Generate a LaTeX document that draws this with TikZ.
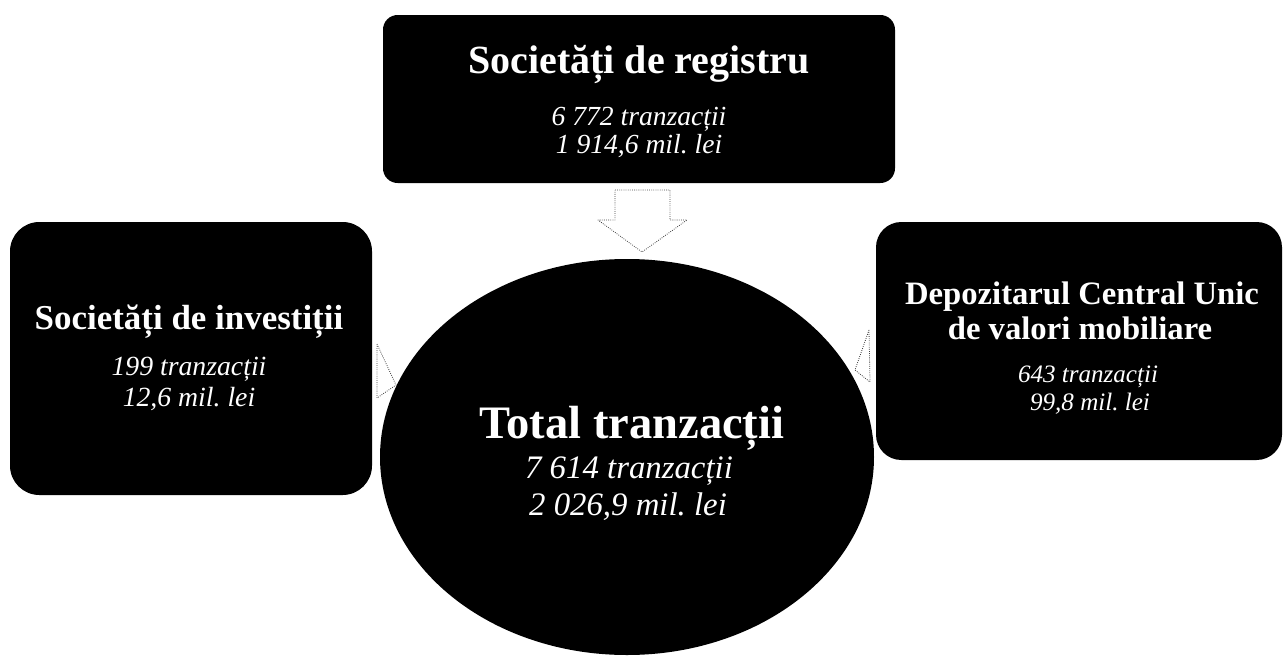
\documentclass[tikz,border=0pt]{standalone}
\usepackage{fontspec}
\setmainfont{Liberation Serif}
\usetikzlibrary{shapes.geometric}
\frenchspacing
\begin{document}
\begin{tikzpicture}[x=0.75pt,y=-0.75pt,
  box/.style={fill=black,draw=none,inner sep=0pt},
  ttl/.style={text=white,anchor=base,inner sep=0pt},
  sub/.style={text=white,anchor=base,inner sep=0pt},
  blockarrow/.style={fill=white,draw=black!75,densely dotted,line width=0.6pt,line join=round}]
\useasboundingbox (0,0) rectangle (1283,657);
% boxes
\node[box,rounded corners=11pt,minimum width=384pt,minimum height=126pt] (reg) at (639,99) {};
\node[box,rounded corners=22pt,minimum width=271.5pt,minimum height=204.75pt] (inv) at (191,358.5) {};
\node[box,rounded corners=19pt,minimum width=304.5pt,minimum height=178.5pt] (dep) at (1079,341) {};
% arrows
\draw[blockarrow] (615,190) -- (670,190) -- (670,220) -- (687,220) -- (642,252) -- (598,220) -- (615,220) -- cycle;
\draw[blockarrow] (377,344) -- (396,385) -- (377,398) -- cycle;
\draw[blockarrow] (869,330) -- (855,370) -- (870,382) -- cycle;
% ellipse
\node[box,ellipse,minimum width=370.5pt,minimum height=297pt] (tot) at (627,457) {};
% texts
\node[ttl,font=\bfseries\fontsize{30}{36}\selectfont] (regt) at (639,73) {Societăți de registru};
\node[sub,font=\itshape\fontsize{20.7}{24}\selectfont] (reg1) at (639,125) {6 772 tranzacții};
\node[sub,font=\itshape\fontsize{20.7}{24}\selectfont] (reg2) at (639,153) {1 914,6 mil. lei};

\node[ttl,font=\bfseries\fontsize{26.2}{31}\selectfont] (invt) at (189,329) {Societăți de investiții};
\node[sub,font=\itshape\fontsize{20.8}{24}\selectfont] (inv1) at (189,375) {199 tranzacții};
\node[sub,font=\itshape\fontsize{20.8}{24}\selectfont] (inv2) at (189,406) {12,6 mil. lei};

\node[ttl,font=\bfseries\fontsize{24.5}{30}\selectfont] (dept1) at (1082,304) {Depozitarul Central Unic};
\node[ttl,font=\bfseries\fontsize{24.5}{30}\selectfont] (dept2) at (1080,339) {de valori mobiliare};
\node[sub,font=\itshape\fontsize{18.8}{22}\selectfont] (dep1) at (1088,382) {643 tranzacții};
\node[sub,font=\itshape\fontsize{18.8}{22}\selectfont] (dep2) at (1090,410) {99,8 mil. lei};

\node[ttl,font=\bfseries\fontsize{34.9}{40}\selectfont] (tott) at (632,438) {Total tranzacții};
\node[sub,font=\itshape\fontsize{24.6}{29}\selectfont] (tot1) at (629,478) {7 614 tranzacții};
\node[sub,font=\itshape\fontsize{24.6}{29}\selectfont] (tot2) at (628,515) {2 026,9 mil. lei};
\end{tikzpicture}
\end{document}
